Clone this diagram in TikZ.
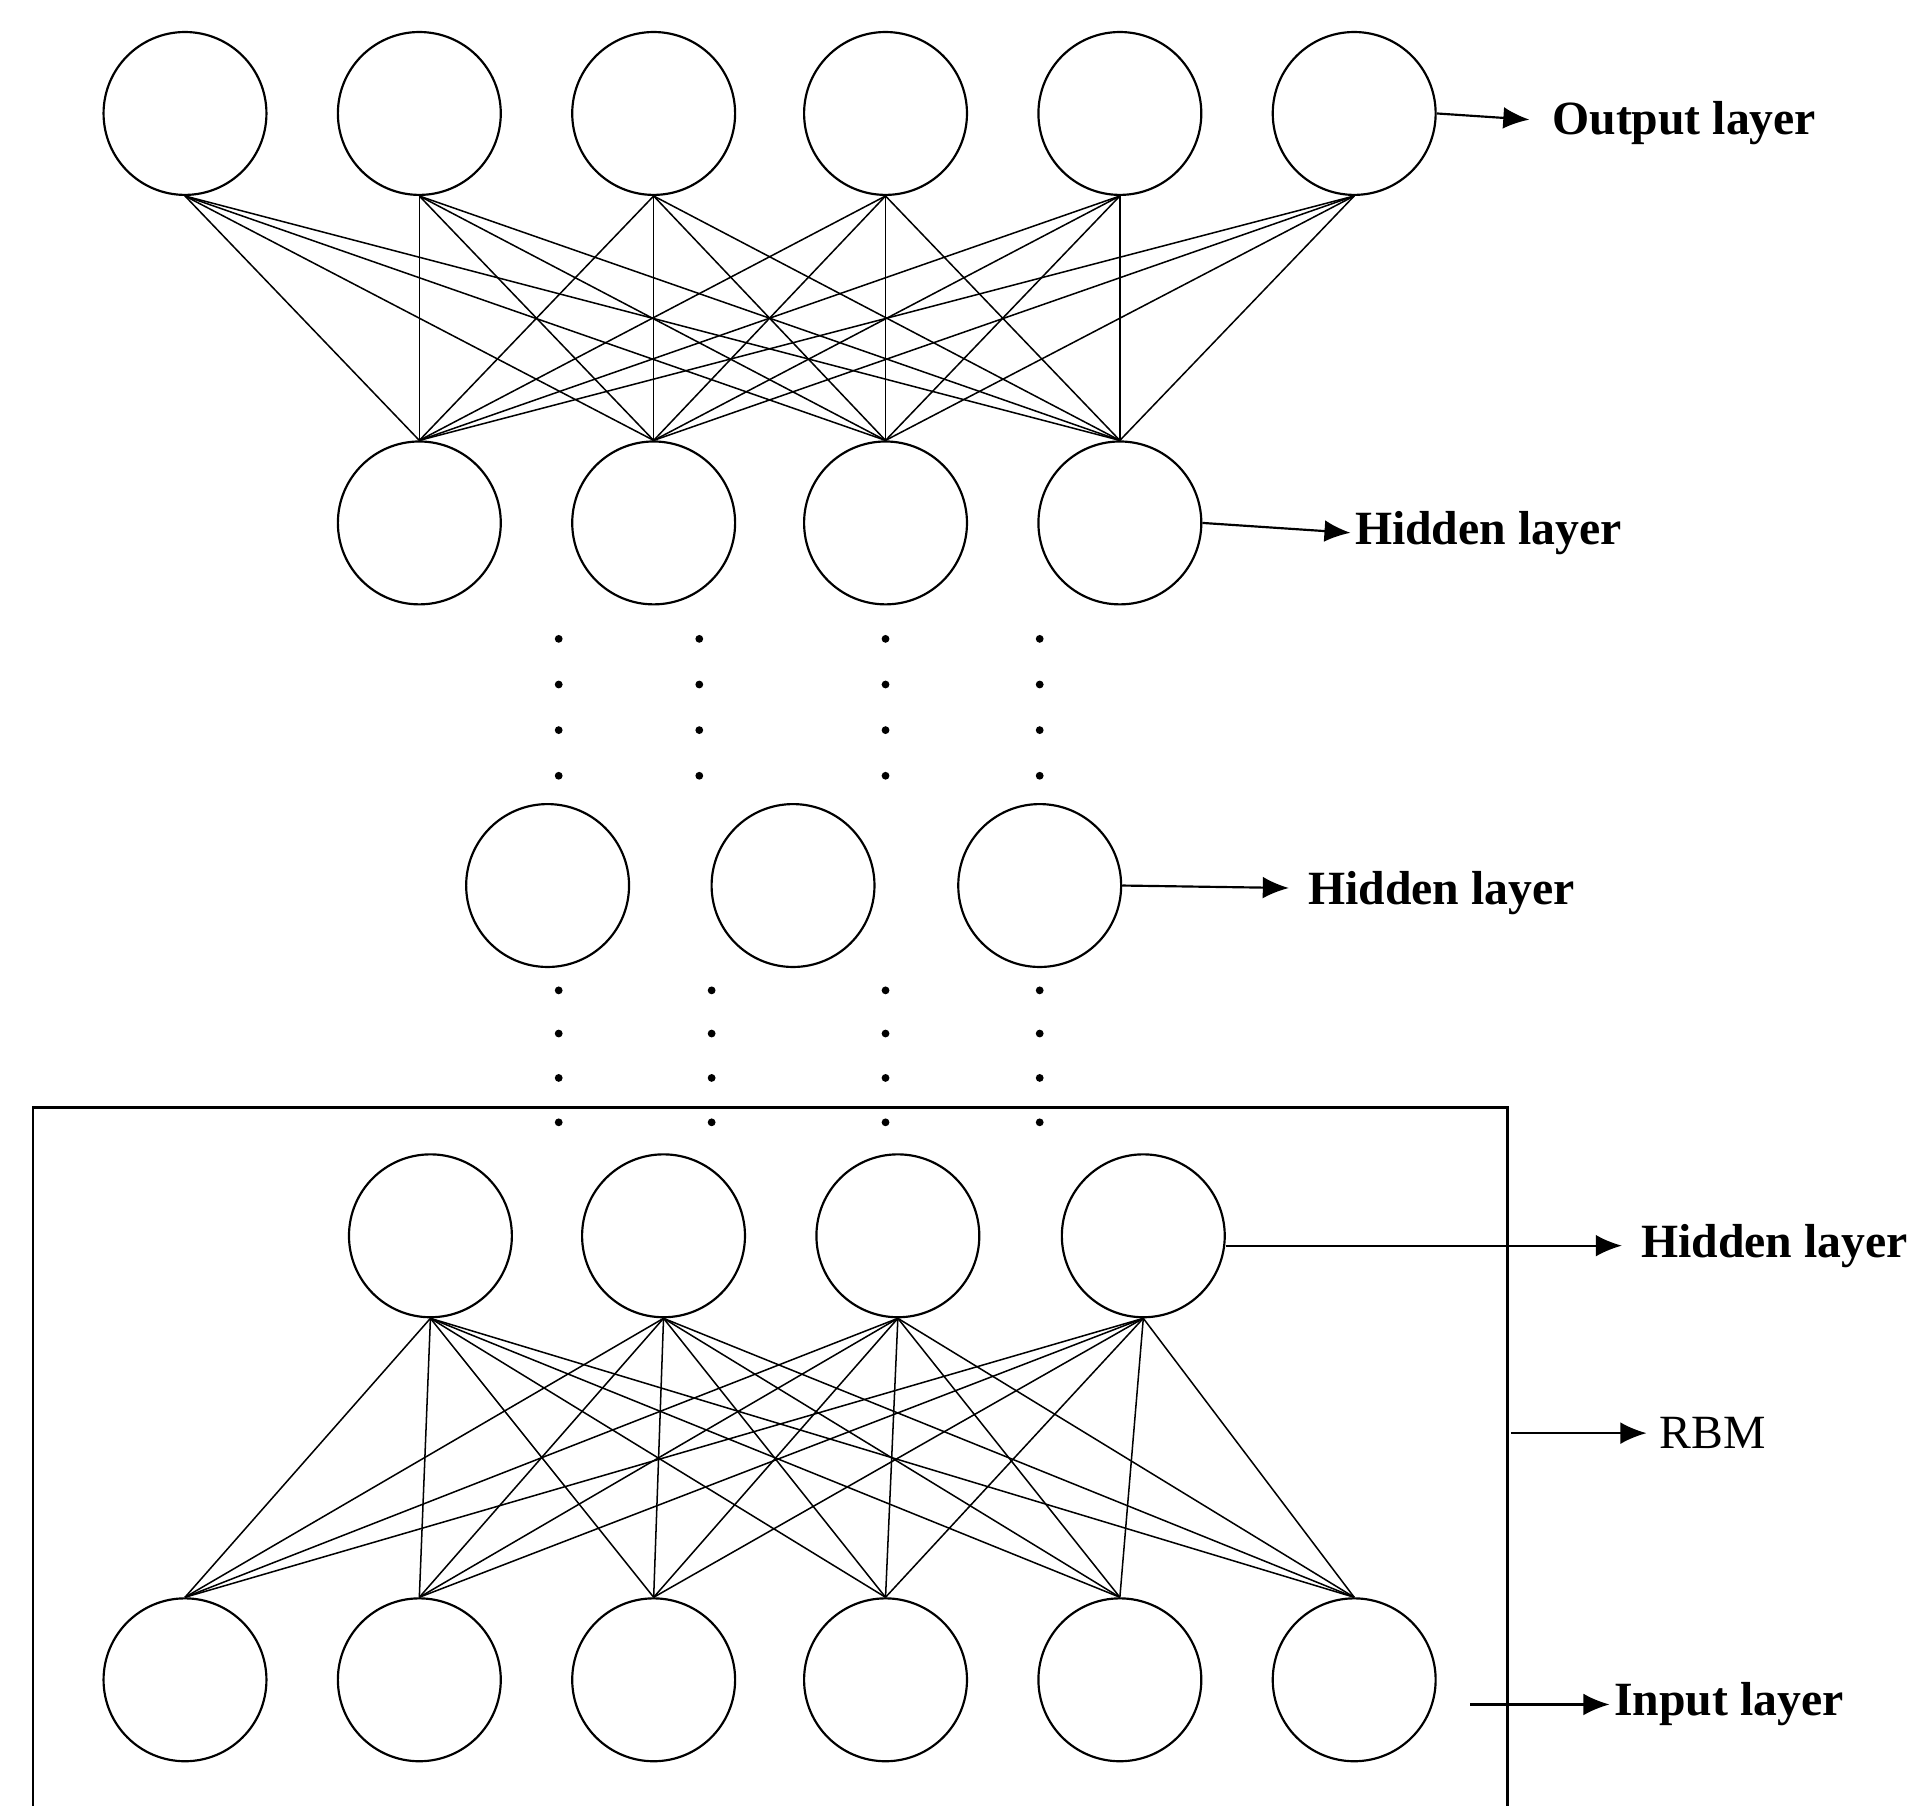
\documentclass[tikz,border=0pt]{standalone}
\usepackage{fontspec}
\setmainfont{Liberation Serif}
\usetikzlibrary{arrows.meta}
\begin{document}
\begin{tikzpicture}[x=0.01cm,y=-0.01cm,
 neuron/.style={circle,draw,line width=0.5pt,minimum size=1.32cm,inner sep=0pt},
 edge/.style={line width=0.35pt},
 arr/.style={line width=0.5pt,-{Latex[length=6pt,width=5pt]}},
 lab/.style={anchor=west,inner sep=0pt,font=\bfseries\fontsize{11}{13}\selectfont},
 dot/.style={circle,fill,inner sep=0pt,minimum size=1.8pt}]
\useasboundingbox (0,0) rectangle (1560,1464);
\foreach \x [count=\i] in {150,340,530,718,908,1098} {\node[neuron] (o\i) at (\x,92) {};}
\foreach \x [count=\i] in {340,530,718,908} {\node[neuron] (h\i) at (\x,424) {};}
\foreach \x [count=\i] in {444,643,843} {\node[neuron] (m\i) at (\x,718) {};}
\foreach \x [count=\i] in {349,538,728,927} {\node[neuron] (r\i) at (\x,1002) {};}
\foreach \x [count=\i] in {150,340,530,718,908,1098} {\node[neuron] (in\i) at (\x,1362) {};}
\foreach \i in {1,...,6} {\foreach \j in {1,...,4} {
  \draw[edge] (o\i.south) -- (h\j.north);
  \draw[edge] (in\i.north) -- (r\j.south);}}
\node[draw,line width=0.6pt,minimum width=11.95cm,minimum height=8.5cm,inner sep=0pt] (box) at (624.5,1323) {};
% dots
\foreach \x [count=\i] in {453,567,718,843} {\foreach \y [count=\k] in {518,555,592,629} {\node[dot] (da\i\k) at (\x,\y) {};}}
\foreach \x [count=\i] in {453,577,718,843} {\foreach \y [count=\k] in {803,838,874,910} {\node[dot] (db\i\k) at (\x,\y) {};}}
% labels
\node[lab] (lo) at (1258,100) {Output layer};
\node[lab] (lh1) at (1098,432) {Hidden layer};
\node[lab] (lh2) at (1060,724) {Hidden layer};
\node[lab] (lh3) at (1330,1010) {Hidden layer};
\node[lab,font=\fontsize{11}{13}\selectfont] (lr) at (1345,1162) {RBM};
\node[lab] (li) at (1308,1382) {Input layer};
\coordinate (c1) at (1240,97);
\coordinate (c2) at (1095,432);
\coordinate (c3) at (1045,720);
\coordinate (c4) at (1315,1010);
\coordinate (c5a) at (1225,1162);
\coordinate (c5) at (1335,1162);
\coordinate (c6a) at (1192,1382);
\coordinate (c6) at (1305,1382);
\draw[arr] (o6.east) -- (c1);
\draw[arr] (h4.east) -- (c2);
\draw[arr] (m3.east) -- (c3);
\draw[arr] (r4.east|-c4) -- (c4);
\draw[arr] (c5a) -- (c5);
\draw[arr] (c6a) -- (c6);
\end{tikzpicture}
\end{document}
